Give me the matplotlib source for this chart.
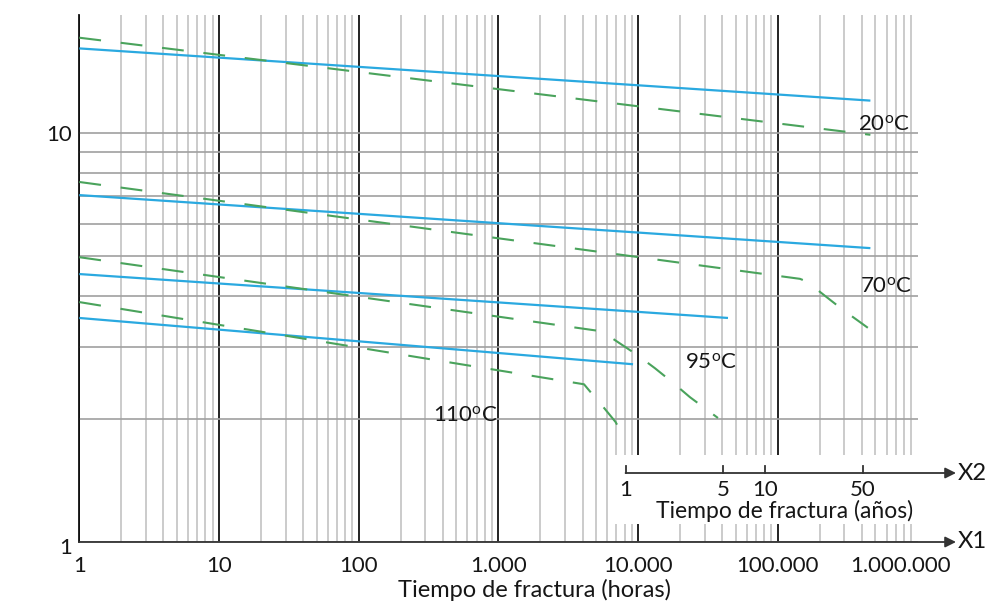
import matplotlib
matplotlib.use('Agg')
import matplotlib.pyplot as plt
import matplotlib.transforms as mtransforms
from matplotlib.patches import Rectangle
from matplotlib.ticker import LogLocator, NullFormatter

plt.rcParams['font.family'] = ['Lato', 'DejaVu Sans']
plt.rcParams['mathtext.fontset'] = 'custom'
plt.rcParams['mathtext.rm'] = 'Lato'
plt.rcParams['mathtext.it'] = 'Lato'
plt.rcParams['mathtext.default'] = 'regular'

# ---------------- data ----------------
x_ticks_hours = [1, 10, 100, 1000, 10000, 100000, 1000000]
x_tick_labels = ['1', '10', '100', '1.000', '10.000', '100.000', '1.000.000']
y_ticks = [1, 10]
y_tick_labels = ['1', '10']
year_ticks = [1, 5, 10, 50]
year_tick_labels = ['1', '5', '10', '50']
hours_per_year = 8760

# solid (blue) lines: time [h], stress
blue_20_t = [1, 4.6e5]
blue_20_s = [16.1, 12.0]
blue_70_t = [1, 4.6e5]
blue_70_s = [7.05, 5.23]
blue_95_t = [1, 4.4e4]
blue_95_s = [4.52, 3.53]
blue_110_t = [1, 9.2e3]
blue_110_s = [3.53, 2.72]

# dashed (green) lines: time [h], stress
green_20_t = [1, 4.6e5]
green_20_s = [17.1, 9.9]
green_70_t = [1, 1.44e5, 1.65e5, 2.0e5, 2.88e5, 4.41e5]
green_70_s = [7.59, 4.40, 4.32, 4.09, 3.71, 3.34]
green_95_t = [1, 5.3e3, 6.6e3, 9.8e3, 1.32e4, 1.78e4, 2.35e4, 3.73e4]
green_95_s = [4.97, 3.28, 3.14, 2.87, 2.66, 2.45, 2.26, 2.01]
green_110_t = [1, 4.1e3, 4.9e3, 5.5e3, 6.9e3, 8.2e3]
green_110_s = [3.86, 2.43, 2.26, 2.16, 1.965, 1.76]

temp_labels = ['20$^{o}$C', '70$^{o}$C', '95$^{o}$C', '110$^{o}$C']
temp_label_px = [(858, 131), (860, 293), (685, 369), (433, 422)]

# ---------------- layout ----------------
W, H = 986, 601
FS = 16
FS_LAB = 17
TXT = '#161616'
fig = plt.figure(figsize=(W / 100, H / 100), dpi=100)
fig.patch.set_facecolor('white')

x_left, x_right, y_top, y_bot = 79.3, 917.5, 15, 542
ax = fig.add_axes([x_left / W, 1 - y_bot / H, (x_right - x_left) / W, (y_bot - y_top) / H])
ax.set_xscale('log')
ax.set_yscale('log')
ax.set_xlim(1, 1e6)
ax.set_ylim(1, 10 ** ((y_bot - y_top) / 409.0))
ax.set_axisbelow(True)

ax.set_xticks(x_ticks_hours, x_tick_labels)
ax.set_yticks(y_ticks, y_tick_labels)
ax.xaxis.set_minor_locator(LogLocator(base=10, subs=range(2, 10), numticks=20))
ax.yaxis.set_minor_locator(LogLocator(base=10, subs=range(2, 10), numticks=20))
ax.xaxis.set_minor_formatter(NullFormatter())
ax.yaxis.set_minor_formatter(NullFormatter())
ax.tick_params(which='both', length=0)
ax.tick_params(axis='x', pad=10, labelsize=FS, colors=TXT)
ax.tick_params(axis='y', pad=5, labelsize=FS, colors=TXT)

ax.grid(which='major', axis='x', color='#111111', lw=1.3)
ax.grid(which='minor', axis='x', color='#c2c2c2', lw=1.2)
ax.grid(which='both', axis='y', color='#a0a0a0', lw=1.2)

for s in ['top', 'right', 'bottom']:
    ax.spines[s].set_visible(False)
ax.spines['left'].set_color('#111111')
ax.spines['left'].set_linewidth(1.3)

# lines
blue = '#2aa9e0'
green = '#4aa35c'
dash = (0, (10.5, 9.5))
for t, s in [(blue_20_t, blue_20_s), (blue_70_t, blue_70_s),
             (blue_95_t, blue_95_s), (blue_110_t, blue_110_s)]:
    ax.plot(t, s, color=blue, lw=1.6, zorder=3, solid_capstyle='butt')
for t, s in [(green_20_t, green_20_s), (green_70_t, green_70_s),
             (green_95_t, green_95_s), (green_110_t, green_110_s)]:
    ax.plot(t, s, color=green, lw=1.5, ls=dash, zorder=3)

# temperature labels
for lab, (px, py) in zip(temp_labels, temp_label_px):
    fig.text(px / W, 1 - py / H, lab, fontsize=FS, ha='left', va='baseline', color=TXT)

# white inset box for the years axis
def axfx(px):
    return (px - x_left) / (x_right - x_left)

def axfy(py):
    return (y_bot - py) / (y_bot - y_top)

ax.add_patch(Rectangle((axfx(610), axfy(524)), axfx(930) - axfx(610), axfy(455) - axfy(524),
                       transform=ax.transAxes, facecolor='white', edgecolor='none',
                       zorder=1, clip_on=False))

# X1 axis arrow
axis_col = '#333333'
ax.annotate('', xy=(axfx(956), 0), xytext=(0, 0), xycoords='axes fraction',
            textcoords='axes fraction',
            arrowprops=dict(arrowstyle='-|>', color=axis_col, lw=1.3,
                            mutation_scale=16, shrinkA=0, shrinkB=0), zorder=4,
            annotation_clip=False)
fig.text(958 / W, 1 - 542 / H, 'X1', fontsize=FS_LAB, ha='left', va='center', color=TXT)

# X2 (years) axis
trans = ax.get_xaxis_transform() + mtransforms.ScaledTranslation(-4.5 / 100, 0, fig.dpi_scale_trans)
y2 = axfy(473)
ax.annotate('', xy=(axfx(956), y2), xycoords='axes fraction',
            xytext=(year_ticks[0] * hours_per_year, y2), textcoords=trans,
            arrowprops=dict(arrowstyle='-|>', color=axis_col, lw=1.3,
                            mutation_scale=16, shrinkA=0, shrinkB=0), zorder=4,
            annotation_clip=False)
for yt, yl in zip(year_ticks, year_tick_labels):
    ax.plot([yt * hours_per_year] * 2, [y2, axfy(466)], color=axis_col, lw=1.3,
            transform=trans, zorder=4, clip_on=False)
    ax.text(yt * hours_per_year, axfy(496), yl, transform=trans, fontsize=FS,
            ha='center', va='baseline', color=TXT, zorder=5)
fig.text(958 / W, 1 - 473 / H, 'X2', fontsize=FS_LAB, ha='left', va='center', color=TXT)
fig.text(785 / W, 1 - 518 / H, 'Tiempo de fractura (años)', fontsize=16.5,
         ha='center', va='baseline', color=TXT)

# X1 label
fig.text(535 / W, 1 - 597 / H, 'Tiempo de fractura (horas)', fontsize=FS_LAB,
         ha='center', va='baseline', color=TXT)

# no gridline at the right end; last tick label shifted left as in the original
fig.canvas.draw()
for tk in ax.xaxis.get_major_ticks():
    if abs(tk.get_loc() - 1e6) < 1:
        tk.gridline.set_visible(False)
        tk.label1.set_transform(tk.label1.get_transform() +
                                mtransforms.ScaledTranslation(-17 / 100, 0, fig.dpi_scale_trans))
for tk in ax.yaxis.get_major_ticks():
    if abs(tk.get_loc() - 1) < 1e-9:
        tk.label1.set_transform(tk.label1.get_transform() +
                                mtransforms.ScaledTranslation(0, -4 / 100, fig.dpi_scale_trans))

fig.savefig('out.png', dpi=100)
